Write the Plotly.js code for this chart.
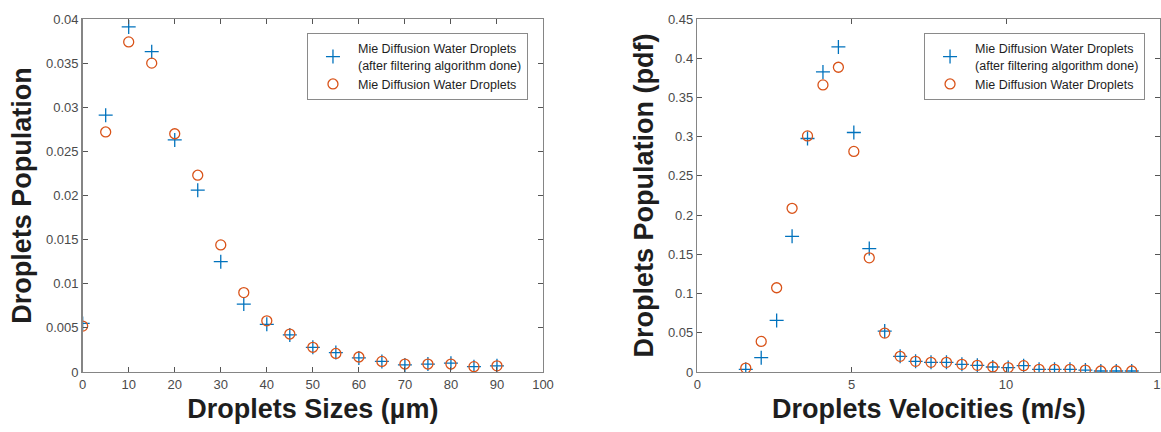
<!DOCTYPE html>
<html>
<head>
<meta charset="utf-8">
<script src="https://cdn.plot.ly/plotly-3.0.1.min.js"></script>
<style>html,body{margin:0;padding:0;background:#fff;}#chart{width:1161px;height:432px;}</style>
</head>
<body>
<div id="chart"></div>
<script>
// Left panel: droplet sizes (µm)
const sizes = [0, 5, 10, 15, 20, 25, 30, 35, 40, 45, 50, 55, 60, 65, 70, 75, 80, 85, 90];
const sizesFiltered = [0.0055, 0.0291, 0.0391, 0.0363, 0.0263, 0.0206, 0.0125, 0.0077, 0.0054, 0.0042, 0.0028, 0.0022, 0.0016, 0.0012, 0.0008, 0.0009, 0.0010, 0.0006, 0.0007];
const sizesMie = [0.0052, 0.0272, 0.0374, 0.0350, 0.0270, 0.0223, 0.0144, 0.0090, 0.0058, 0.0043, 0.0028, 0.0021, 0.0017, 0.0012, 0.0009, 0.0009, 0.0009, 0.0006, 0.0007];

// Right panel: droplet velocities (m/s)
const velocities = [1.57, 2.07, 2.57, 3.07, 3.57, 4.07, 4.57, 5.07, 5.57, 6.07, 6.57, 7.07, 7.57, 8.07, 8.57, 9.07, 9.57, 10.07, 10.57, 11.07, 11.57, 12.07, 12.57, 13.07, 13.57, 14.07];
const velFiltered = [0.0034, 0.0183, 0.0658, 0.173, 0.2977, 0.3826, 0.4144, 0.3053, 0.1574, 0.0522, 0.020, 0.0136, 0.0123, 0.0123, 0.0098, 0.0085, 0.0064, 0.0056, 0.0081, 0.0034, 0.0034, 0.0034, 0.0025, 0.0013, 0.0013, 0.0013];
const velMie = [0.005, 0.039, 0.1074, 0.2087, 0.301, 0.366, 0.3885, 0.2812, 0.1455, 0.0496, 0.020, 0.0136, 0.0123, 0.0123, 0.0098, 0.0085, 0.0064, 0.0056, 0.0081, 0.0034, 0.0034, 0.0034, 0.0025, 0.0013, 0.0013, 0.0013];

const nameFiltered = "Mie Diffusion Water Droplets<br>(after filtering algorithm done)";
const nameMie = "Mie Diffusion Water Droplets";

const blue = "#0072BD", orange = "#D95319";
const FONT = "Liberation Sans, Arial, Helvetica, sans-serif";

const plusMarker = {symbol: "cross-thin-open", size: 10, color: blue, line: {color: blue, width: 1.3}};
const circMarker = {symbol: "circle-open", size: 10, color: orange, line: {color: orange, width: 1.3}};

const traces = [
  {x: sizes, y: sizesFiltered, type: "scatter", mode: "markers", name: nameFiltered, marker: plusMarker, xaxis: "x", yaxis: "y", legend: "legend"},
  {x: sizes, y: sizesMie, type: "scatter", mode: "markers", name: nameMie, marker: circMarker, xaxis: "x", yaxis: "y", legend: "legend"},
  {x: velocities, y: velFiltered, type: "scatter", mode: "markers", name: nameFiltered, marker: plusMarker, xaxis: "x2", yaxis: "y2", legend: "legend2"},
  {x: velocities, y: velMie, type: "scatter", mode: "markers", name: nameMie, marker: circMarker, xaxis: "x2", yaxis: "y2", legend: "legend2"}
];

function axisBase(extra) {
  return Object.assign({
    showline: true, linecolor: "#858585", linewidth: 1.5, mirror: "ticks",
    ticks: "inside", ticklen: 5, tickwidth: 1, tickcolor: "#555",
    showgrid: false, zeroline: false, automargin: false,
    tickfont: {family: FONT, size: 13, color: "#4a4a4a"}
  }, extra);
}
const titleFont = {family: FONT, size: 27, color: "#1e1e1e", weight: "bold"};

const legendBase = {
  bgcolor: "#ffffff", bordercolor: "#8a8a8a", borderwidth: 1,
  font: {family: FONT, size: 12.5, color: "#1e1e1e"},
  xanchor: "left", yanchor: "top", itemwidth: 40, tracegroupgap: 0, valign: "middle"
};

const layout = {
  width: 1161, height: 432,
  margin: {l: 0, r: 0, t: 0, b: 0},
  paper_bgcolor: "#ffffff", plot_bgcolor: "#ffffff",
  showlegend: true,
  xaxis: axisBase({domain: [0.0712, 0.4677], range: [0, 100], dtick: 10, tick0: 0, anchor: "y",
    title: {text: "Droplets Sizes (µm)", font: titleFont, standoff: 8}}),
  yaxis: axisBase({domain: [0.1389, 0.956], range: [0, 0.04], dtick: 0.005, tick0: 0, anchor: "x",
    title: {text: "Droplets Population", font: titleFont, standoff: 6}}),
  xaxis2: axisBase({domain: [0.6006, 0.9995], range: [0, 15], dtick: 5, tick0: 0, anchor: "y2",
    ticklabeloverflow: "allow",
    title: {text: "Droplets Velocities (m/s)", font: titleFont, standoff: 8}}),
  yaxis2: axisBase({domain: [0.1389, 0.956], range: [0, 0.45], dtick: 0.05, tick0: 0, anchor: "x2",
    title: {text: "Droplets Population (pdf)", font: titleFont, standoff: 6}}),
  legend: Object.assign({}, legendBase, {x: 0.2644, y: 0.924}),
  legend2: Object.assign({}, legendBase, {x: 0.7959, y: 0.924})
};

Plotly.newPlot("chart", traces, layout, {displayModeBar: false, staticPlot: true});
</script>
</body>
</html>
